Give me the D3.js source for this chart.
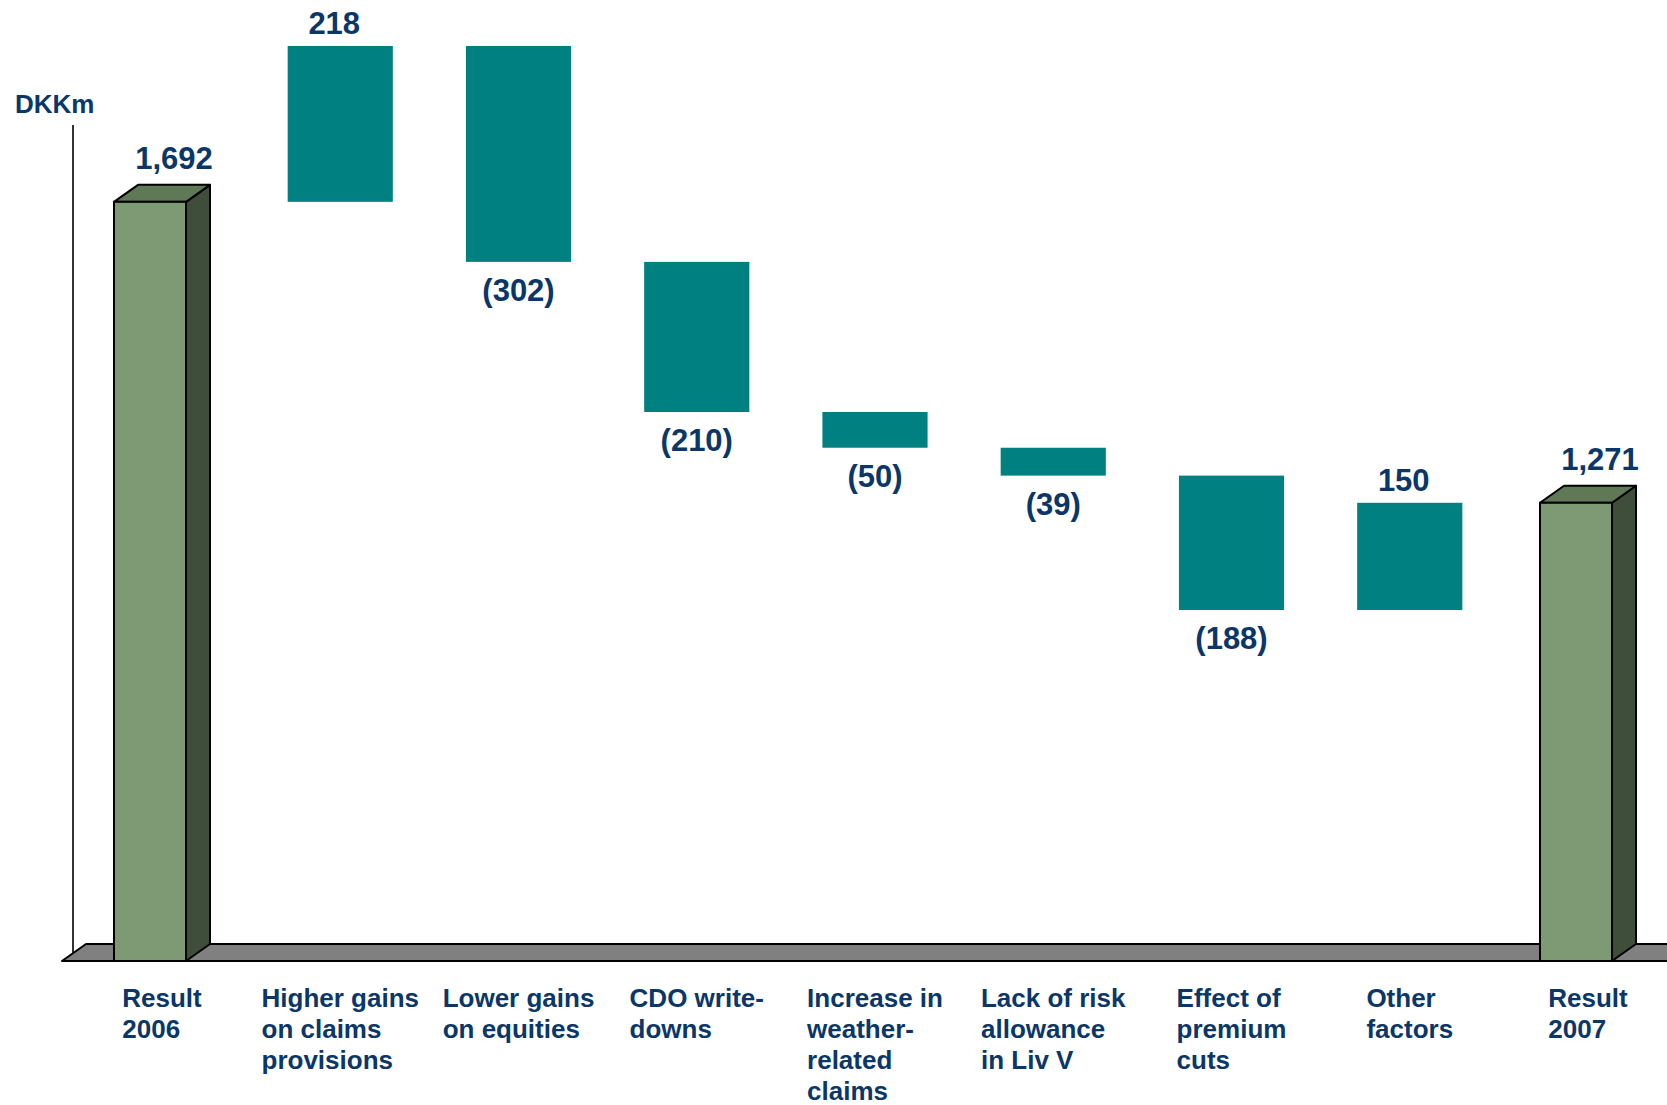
<!DOCTYPE html>
<html><head><meta charset="utf-8">
<script src="https://cdn.jsdelivr.net/npm/d3@7"></script>
<style>
html,body{margin:0;padding:0;background:#fff;overflow:hidden;}
text{font-family:"Liberation Sans",Arial,Helvetica,sans-serif;font-weight:bold;fill:#0b3768;}
</style></head><body>
<svg id="chart" width="1667" height="1105"></svg>
<script>
// ---- data ----
const categories = ["Result 2006","Higher gains on claims provisions","Lower gains on equities","CDO write-downs","Increase in weather-related claims","Lack of risk allowance in Liv V","Effect of premium cuts","Other factors","Result 2007"];
const categoryLines = [["Result","2006"],["Higher gains","on claims","provisions"],["Lower gains","on equities"],["CDO write-","downs"],["Increase in","weather-","related","claims"],["Lack of risk","allowance","in Liv V"],["Effect of","premium","cuts"],["Other","factors"],["Result","2007"]];
const values = [1692, 218, -302, -210, -50, -39, -188, 150, 1271];
const kinds = ["total","delta","delta","delta","delta","delta","delta","delta","total"];
const valueLabels = ["1,692","218","(302)","(210)","(50)","(39)","(188)","150","1,271"];
const unitLabel = "DKKm";

// ---- layout ----
const W = 1667, H = 1105;
const floorY = 961, depthX = 24, depthY = 17;
const axisBase = 630; // truncated (schematic) value axis base
const svg = d3.select("#chart");

// waterfall
let running = 0;
const rows = categories.map((c,i) => {
  let start, end;
  if (kinds[i] === "total") { start = axisBase; end = values[i]; running = values[i]; }
  else { start = running; end = running + values[i]; running = end; }
  return {cat:c, lines:categoryLines[i], value:values[i], kind:kinds[i], label:valueLabels[i], start, end};
});

const x = d3.scalePoint().domain(categories).range([162, 1588]);
const barW = x.step() * 0.59;
const y = d3.scaleLinear()
  .domain([axisBase, d3.max(rows, d => Math.max(d.start, d.end))])
  .range([floorY, 46]);

// floor
const floorPts = [[62,floorY],[W+2,floorY],[W+2+depthX,floorY-depthY],[62+depthX,floorY-depthY]];
svg.append("polygon").attr("points", floorPts.map(p=>p.join(",")).join(" "))
  .attr("fill","#808080").attr("stroke","#000").attr("stroke-width",2).attr("stroke-linejoin","round");

// axis line
svg.append("line").attr("x1",73).attr("x2",73).attr("y1",125).attr("y2",floorY-8)
  .attr("stroke","#000").attr("stroke-width",1.6);

svg.append("text").attr("x",15).attr("y",113).attr("font-size",26).text(unitLabel);

// floating bars
svg.selectAll("rect.delta").data(rows.filter(d=>d.kind==="delta")).join("rect")
  .attr("class","delta")
  .attr("x", d => x(d.cat) - barW/2)
  .attr("width", barW)
  .attr("y", d => y(Math.max(d.start,d.end)))
  .attr("height", d => Math.abs(y(d.start) - y(d.end)))
  .attr("fill","#008080");

// 3D total bars
const fw = 72;
const totals = rows.filter(d=>d.kind==="total");
const g3 = svg.selectAll("g.total").data(totals).join("g").attr("class","total");
g3.append("polygon") // side
  .attr("points", d => {
    const l = x(d.cat) - 48 + fw, t = y(d.end);
    return [[l,t],[l+depthX,t-depthY],[l+depthX,floorY-depthY],[l,floorY]].map(p=>p.join(",")).join(" ");
  })
  .attr("fill","#3f4e3a").attr("stroke","#000").attr("stroke-width",2).attr("stroke-linejoin","round");
g3.append("polygon") // top
  .attr("points", d => {
    const l = x(d.cat) - 48, t = y(d.end);
    return [[l,t],[l+depthX,t-depthY],[l+fw+depthX,t-depthY],[l+fw,t]].map(p=>p.join(",")).join(" ");
  })
  .attr("fill","#5f7856").attr("stroke","#000").attr("stroke-width",2).attr("stroke-linejoin","round");
g3.append("rect") // front
  .attr("x", d => x(d.cat) - 48).attr("width", fw)
  .attr("y", d => y(d.end)).attr("height", d => floorY - y(d.end))
  .attr("fill","#7d9a74").attr("stroke","#000").attr("stroke-width",2);

// value labels
svg.selectAll("text.val").data(rows).join("text")
  .attr("class","val").attr("font-size",31).attr("text-anchor","middle")
  .attr("x", d => d.kind==="total" ? x(d.cat)+12 : (d.value>0 ? x(d.cat)-6 : x(d.cat)))
  .attr("y", d => {
    if (d.kind==="total") return y(d.end) - depthY - 16;
    if (d.value > 0) return y(d.end) - 12;
    return y(d.end) + 39;
  })
  .text(d => d.label);

// category labels (left-aligned blocks centred under each point)
const cl = svg.selectAll("text.cat").data(rows).join("text")
  .attr("class","cat").attr("font-size",26).attr("y",1007);
cl.each(function(d){
  const t = d3.select(this);
  d.lines.forEach((ln,i) => {
    t.append("tspan").attr("dy", i===0 ? 0 : 31).text(ln);
  });
  let maxW = 0;
  t.selectAll("tspan").each(function(){ maxW = Math.max(maxW, this.getComputedTextLength()); });
  t.selectAll("tspan").attr("x", x(d.cat) - maxW/2);
});
</script>
</body></html>
